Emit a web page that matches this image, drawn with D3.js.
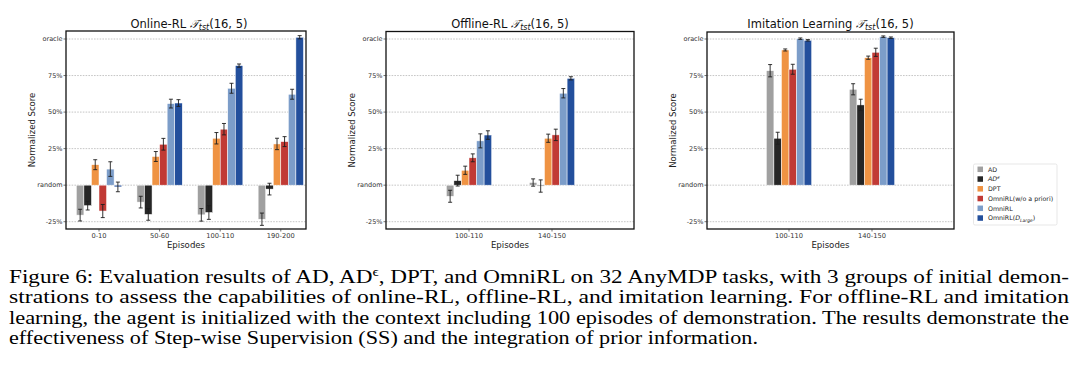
<!DOCTYPE html>
<html>
<head>
<meta charset="utf-8">
<script src="https://cdn.jsdelivr.net/npm/d3@7"></script>
<style>
  html, body { margin: 0; padding: 0; background: #fff; }
  svg { display: block; }
</style>
</head>
<body>
<svg id="chart" width="1080" height="377"></svg>
<script>
// ---------------- DATA ----------------
const seriesNames = ["AD", "ADe", "DPT", "OmniRL(w/o a priori)", "OmniRL", "OmniRL(D_Large)"];
const seriesColors = ["#a0a0a0", "#262626", "#ef9343", "#c13a35", "#7c9dc9", "#234f9c"];

const yTickValues = [100, 75, 50, 25, 0, -25];
const yTickLabels = ["oracle", "75%", "50%", "25%", "random", "-25%"];

// Online-RL
const onlineCategories = ["0-10", "50-60", "100-110", "190-200"];
const onlineAD      = [-20.5, -11.6, -20.3, -23.3];
const onlineADe     = [-14.0, -20.0, -18.7, -2.7];
const onlineDPT     = [14.0, 19.6, 32.1, 28.2];
const onlineWoPrior = [-17.7, 28.0, 38.3, 29.8];
const onlineOmni    = [11.0, 55.8, 66.3, 62.2];
const onlineLarge   = [-1.2, 56.2, 81.8, 101.2];
const onlineADErr      = [4.0, 4.0, 4.3, 4.2];
const onlineADeErr     = [3.0, 4.0, 4.7, 4.0];
const onlineDPTErr     = [3.4, 3.4, 3.9, 3.9];
const onlineWoPriorErr = [4.5, 4.0, 3.9, 3.4];
const onlineOmniErr    = [5.0, 3.0, 3.4, 3.4];
const onlineLargeErr   = [3.3, 2.3, 1.1, 1.1];

// Offline-RL
const offlineCategories = ["100-110", "140-150"];
const offlineAD      = [-7.6, 1.8];
const offlineADe     = [3.1, -0.6];
const offlineDPT     = [10.2, 32.1];
const offlineWoPrior = [18.7, 34.4];
const offlineOmni    = [30.3, 62.9];
const offlineLarge   = [34.3, 73.1];
const offlineADErr      = [4.1, 2.5];
const offlineADeErr     = [3.7, 4.2];
const offlineDPTErr     = [2.8, 2.8];
const offlineWoPriorErr = [2.7, 3.9];
const offlineOmniErr    = [4.8, 3.2];
const offlineLargeErr   = [2.9, 1.1];

// Imitation Learning
const imitCategories = ["100-110", "140-150"];
const imitAD      = [78.3, 65.6];
const imitADe     = [32.1, 54.9];
const imitDPT     = [92.5, 87.2];
const imitWoPrior = [79.3, 90.9];
const imitOmni    = [100.2, 101.6];
const imitLarge   = [99.1, 100.9];
const imitADErr      = [4.2, 3.8];
const imitADeErr     = [4.1, 3.9];
const imitDPTErr     = [0.7, 1.1];
const imitWoPriorErr = [3.4, 2.8];
const imitOmniErr    = [0.5, 0.5];
const imitLargeErr   = [0.5, 0.5];

const captionLines = [
  ["Figure 6: Evaluation results of AD, AD", "\u03F5", ", DPT, and OmniRL on 32 AnyMDP tasks, with 3 groups of initial demon-"],
  ["strations to assess the capabilities of online-RL, offline-RL, and imitation learning.  For offline-RL and imitation"],
  ["learning, the agent is initialized with the context including 100 episodes of demonstration. The results demonstrate the"],
  ["effectiveness of Step-wise Supervision (SS) and the integration of prior information."]
];

// ---------------- DRAW ----------------
const svg = d3.select("#chart");
svg.append("rect").attr("width", 1080).attr("height", 377).attr("fill", "#fff");

const FONT = "DejaVu Sans, sans-serif";

const panels = [
  { title: "Online-RL ", titleX: 189, left: 66, right: 306, top: 31, bottom: 229,
    c0: 99, step: 60.6, cats: onlineCategories,
    means: [onlineAD, onlineADe, onlineDPT, onlineWoPrior, onlineOmni, onlineLarge],
    errs: [onlineADErr, onlineADeErr, onlineDPTErr, onlineWoPriorErr, onlineOmniErr, onlineLargeErr] },
  { title: "Offline-RL ", titleX: 510, left: 386, right: 634, top: 31.5, bottom: 229,
    c0: 469, step: 83, cats: offlineCategories,
    means: [offlineAD, offlineADe, offlineDPT, offlineWoPrior, offlineOmni, offlineLarge],
    errs: [offlineADErr, offlineADeErr, offlineDPTErr, offlineWoPriorErr, offlineOmniErr, offlineLargeErr] },
  { title: "Imitation Learning ", titleX: 830.5, left: 707, right: 954, top: 32, bottom: 229,
    c0: 789, step: 83, cats: imitCategories,
    means: [imitAD, imitADe, imitDPT, imitWoPrior, imitOmni, imitLarge],
    errs: [imitADErr, imitADeErr, imitDPTErr, imitWoPriorErr, imitOmniErr, imitLargeErr] }
];

const barW = 7.55;

panels.forEach(p => {
  const g = svg.append("g");
  const x = d3.scaleLinear()
    .domain([(p.left - p.c0) / p.step, (p.right - p.c0) / p.step])
    .range([p.left, p.right]);
  const y = d3.scaleLinear().domain([-25, 100]).range([221.7, 39]);

  // gridlines
  g.selectAll(".grid").data(yTickValues).join("line")
    .attr("x1", p.left).attr("x2", p.right)
    .attr("y1", d => y(d)).attr("y2", d => y(d))
    .attr("stroke", "#b8b8b8").attr("stroke-width", 0.8)
    .attr("stroke-dasharray", "1.6,1.2");

  // bars
  p.means.forEach((vals, s) => {
    g.selectAll(null).data(vals).join("rect")
      .attr("x", (d, i) => x(i) + (s - 3) * barW)
      .attr("width", barW)
      .attr("y", d => Math.min(y(d), y(0)))
      .attr("height", d => Math.abs(y(d) - y(0)))
      .attr("fill", seriesColors[s])
      .attr("stroke", "#ffffff").attr("stroke-width", 0.5);
  });

  // error bars
  p.means.forEach((vals, s) => {
    const errs = p.errs[s];
    vals.forEach((d, i) => {
      const cx = x(i) + (s - 2.5) * barW;
      const e = errs[i];
      g.append("line").attr("x1", cx).attr("x2", cx)
        .attr("y1", y(d - e)).attr("y2", y(d + e))
        .attr("stroke", "#1e1e1e").attr("stroke-width", 0.9);
      [d - e, d + e].forEach(v => {
        g.append("line").attr("x1", cx - 2).attr("x2", cx + 2)
          .attr("y1", y(v)).attr("y2", y(v))
          .attr("stroke", "#1e1e1e").attr("stroke-width", 0.9);
      });
    });
  });

  // frame
  g.append("rect").attr("x", p.left).attr("y", p.top)
    .attr("width", p.right - p.left).attr("height", p.bottom - p.top)
    .attr("fill", "none").attr("stroke", "#111").attr("stroke-width", 1.3);

  // y ticks
  yTickValues.forEach((v, k) => {
    g.append("line").attr("x1", p.left - 2.5).attr("x2", p.left)
      .attr("y1", y(v)).attr("y2", y(v)).attr("stroke", "#333").attr("stroke-width", 0.7);
    g.append("text").attr("x", p.left - 3.5).attr("y", y(v))
      .attr("dy", "0.35em").attr("text-anchor", "end")
      .attr("font-family", FONT).attr("font-size", 6.5).attr("fill", "#333")
      .text(yTickLabels[k]);
  });

  // x ticks
  p.cats.forEach((c, i) => {
    g.append("line").attr("x1", x(i)).attr("x2", x(i))
      .attr("y1", p.bottom).attr("y2", p.bottom + 2.5).attr("stroke", "#333").attr("stroke-width", 0.7);
    g.append("text").attr("x", x(i)).attr("y", 237.6)
      .attr("text-anchor", "middle")
      .attr("font-family", FONT).attr("font-size", 6.7).attr("fill", "#333")
      .text(c);
  });

  // axis labels
  g.append("text").attr("x", (p.left + p.right) / 2).attr("y", 247.5)
    .attr("text-anchor", "middle").attr("font-family", FONT).attr("font-size", 8.6)
    .attr("fill", "#222").text("Episodes");
  g.append("text")
    .attr("transform", `translate(${p.left - 31},${(p.top + p.bottom) / 2}) rotate(-90)`)
    .attr("text-anchor", "middle").attr("font-family", FONT).attr("font-size", 8.5)
    .attr("fill", "#222").text("Normalized Score");

  // title
  const t = g.append("text").attr("x", p.titleX).attr("y", 27.5)
    .attr("text-anchor", "middle").attr("font-family", FONT).attr("font-size", 11.5).attr("fill", "#111");
  t.append("tspan").text(p.title);
  t.append("tspan").attr("font-style", "italic").attr("font-family", "DejaVu Serif, serif").text("\uD835\uDCAF");
  t.append("tspan").attr("font-style", "italic").attr("font-size", 8).attr("dy", 2.5).text("tst");
  t.append("tspan").attr("dy", -2.5).text("(16, 5)");
});

// legend
const lg = svg.append("g");
lg.append("rect").attr("x", 973.5).attr("y", 164).attr("width", 83.5).attr("height", 61)
  .attr("rx", 1.5).attr("fill", "#fff").attr("stroke", "#dcdcdc").attr("stroke-width", 0.7);
seriesNames.forEach((name, i) => {
  const cy = 169.3 + i * 9.75;
  lg.append("rect").attr("x", 977.5).attr("y", cy - 2.75).attr("width", 5.5).attr("height", 5.5)
    .attr("fill", seriesColors[i]);
  const t = lg.append("text").attr("x", 988).attr("y", cy).attr("dy", "0.35em")
    .attr("font-family", FONT).attr("font-size", 6.3).attr("fill", "#222");
  if (name === "ADe") {
    t.append("tspan").attr("font-style", "italic").text("AD");
    t.append("tspan").attr("font-style", "italic").attr("font-size", 4.5).attr("dy", -2.5).text("\u03F5");
  } else if (name === "OmniRL(D_Large)") {
    t.append("tspan").text("OmniRL(");
    t.append("tspan").attr("font-style", "italic").text("D");
    t.append("tspan").attr("font-style", "italic").attr("font-size", 4.5).attr("dy", 1.5).text("Large");
    t.append("tspan").attr("dy", -1.5).text(")");
  } else {
    t.text(name);
  }
});

// caption
const capBaselines = [282.5, 303, 323.5, 344];
const capWidths = [1060, 1060, 1060, 749];
captionLines.forEach((parts, i) => {
  const t = svg.append("text").attr("x", 9).attr("y", capBaselines[i])
    .attr("font-family", "Liberation Serif, Times New Roman, serif").attr("font-size", 19.5)
    .attr("fill", "#000")
    .attr("textLength", capWidths[i]).attr("lengthAdjust", "spacingAndGlyphs");
  if (parts.length === 3) {
    t.append("tspan").text(parts[0]);
    t.append("tspan").attr("font-size", 13).attr("dy", -7).text(parts[1]);
    t.append("tspan").attr("dy", 7).text(parts[2]);
  } else {
    t.text(parts[0]);
  }
});
</script>
</body>
</html>
